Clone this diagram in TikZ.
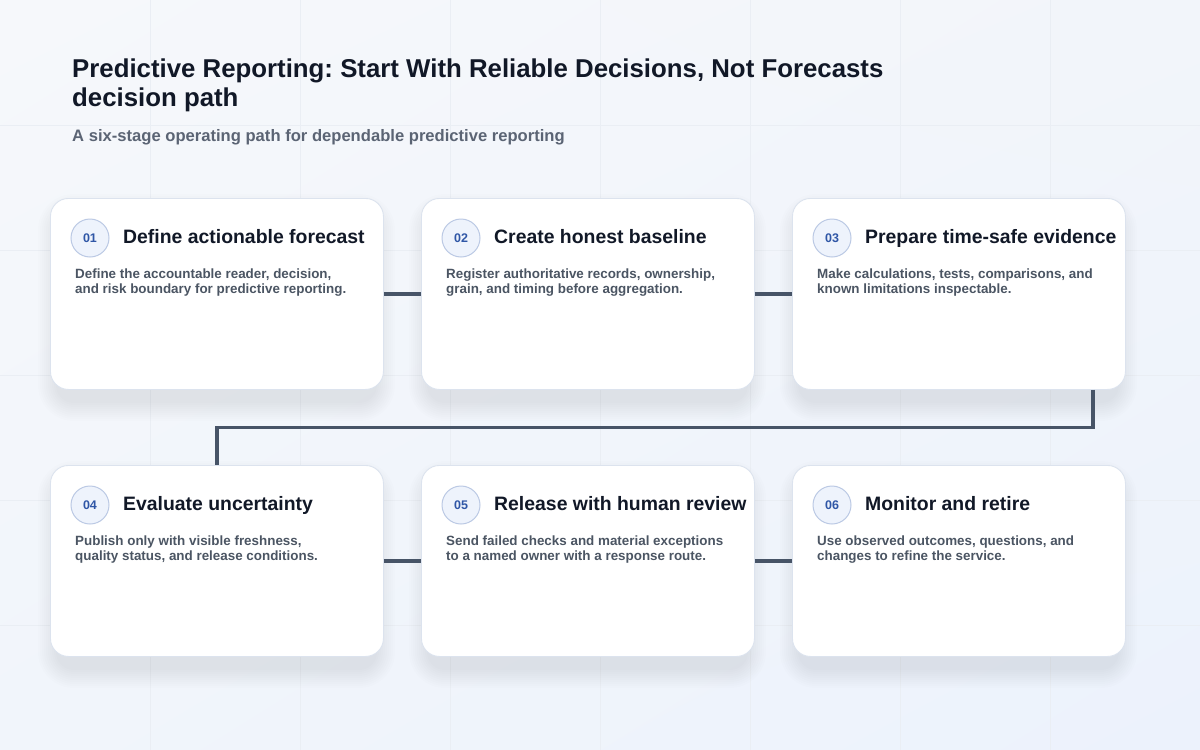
\documentclass[tikz,border=0pt]{standalone}
\usepackage{fontspec}
\setmainfont{Liberation Sans}
\usetikzlibrary{calc,shadings}
\definecolor{bgA}{HTML}{F6F8FB}
\definecolor{bgB}{HTML}{F2F5FA}
\definecolor{bgC}{HTML}{F1F5FB}
\definecolor{bgD}{HTML}{ECF2FC}
\definecolor{gridc}{HTML}{EAEEF4}
\definecolor{cardline}{HTML}{DCE3EE}
\definecolor{ttlc}{HTML}{111827}
\definecolor{descc}{HTML}{4B5563}
\definecolor{subc}{HTML}{5B6474}
\definecolor{numc}{HTML}{2F56A6}
\definecolor{numfill}{HTML}{EEF3FC}
\definecolor{numline}{HTML}{BBC9E4}
\definecolor{connc}{HTML}{475467}
\definecolor{shadowc}{HTML}{2A3A60}
\tikzset{
  card/.style={draw=cardline, line width=0.9pt, fill=white, rounded corners=18pt,
    minimum width=333pt, minimum height=191pt, inner sep=0pt, anchor=north west},
  numbadge/.style={circle, draw=numline, line width=1pt, fill=numfill, minimum size=38pt,
    inner sep=0pt, text=numc, font=\fontsize{12.5}{14}\selectfont\bfseries},
  cardttl/.style={anchor=base west, inner sep=0pt, text=ttlc, font=\fontsize{19.4}{22}\selectfont\bfseries},
  carddesc/.style={anchor=base west, inner sep=0pt, text=descc, font=\fontsize{13.4}{16}\selectfont\bfseries},
  conn/.style={draw=connc, line width=3.6pt, line join=miter},
  gridline/.style={draw=gridc, line width=0.6pt},
  shadowlayer/.style={fill=shadowc, fill opacity=0.009, draw=none}
}
\newcommand{\stagecard}[7]{%
  \foreach \k in {0,...,9}{%
    \pgfmathsetmacro{\sp}{\k*2}%
    \pgfmathsetmacro{\rr}{18+\k*2}%
    \fill[shadowlayer, rounded corners=\rr pt] ({#2+6-\sp},{#3+14-\sp}) rectangle ({#2+327+\sp},{#3+191+14+\sp});
  }
  \node[card] (#1) at (#2,#3) {};
  \node[numbadge] (#1n) at ([xshift=40pt,yshift=-40pt]#1.north west) {#4};
  \node[cardttl] (#1h) at ([xshift=73pt,yshift=-45pt]#1.north west) {#5};
  \node[carddesc] (#1a) at ([xshift=25pt,yshift=-80pt]#1.north west) {#6};
  \node[carddesc] (#1b) at ([xshift=25pt,yshift=-95pt]#1.north west) {#7};
}
\begin{document}
\frenchspacing
\begin{tikzpicture}[x=1pt,y=-1pt]
\useasboundingbox (0,0) rectangle (1200,750);
\shade[upper left=bgA, upper right=bgB, lower left=bgC, lower right=bgD] (0,0) rectangle (1200,750);
\foreach \gx in {150,300,...,1050} \draw[gridline] (\gx,0) -- (\gx,750);
\foreach \gy in {125,250,375,500,625} \draw[gridline] (0,\gy) -- (1200,\gy);

\node[anchor=base west, inner sep=0pt, text=ttlc, font=\fontsize{25.8}{29}\selectfont\bfseries] (title1) at (72,77) {Predictive Reporting: Start With Reliable Decisions, Not Forecasts};
\node[anchor=base west, inner sep=0pt, text=ttlc, font=\fontsize{25.8}{29}\selectfont\bfseries] (title2) at (72,106) {decision path};
\node[anchor=base west, inner sep=0pt, text=subc, font=\fontsize{16.6}{19}\selectfont\bfseries] (subtitle) at (72,141) {A six-stage operating path for dependable predictive reporting};

\stagecard{c1}{50}{198}{01}{Define actionable forecast}{Define the accountable reader, decision,}{and risk boundary for predictive reporting.}
\stagecard{c2}{421}{198}{02}{Create honest baseline}{Register authoritative records, ownership,}{grain, and timing before aggregation.}
\stagecard{c3}{792}{198}{03}{Prepare time-safe evidence}{Make calculations, tests, comparisons, and}{known limitations inspectable.}
\stagecard{c4}{50}{465}{04}{Evaluate uncertainty}{Publish only with visible freshness,}{quality status, and release conditions.}
\stagecard{c5}{421}{465}{05}{Release with human review}{Send failed checks and material exceptions}{to a named owner with a response route.}
\stagecard{c6}{792}{465}{06}{Monitor and retire}{Use observed outcomes, questions, and}{changes to refine the service.}

\draw[conn] (c1.east) -- (c2.west);
\draw[conn] (c2.east) -- (c3.west);
\draw[conn] (c4.east) -- (c5.west);
\draw[conn] (c5.east) -- (c6.west);
\coordinate (turn) at ($(c3.south)!0.5!(c4.north)$);
\draw[conn] ([xshift=-33pt]c3.south east) |- (turn) -| (c4.north);
\end{tikzpicture}
\end{document}
